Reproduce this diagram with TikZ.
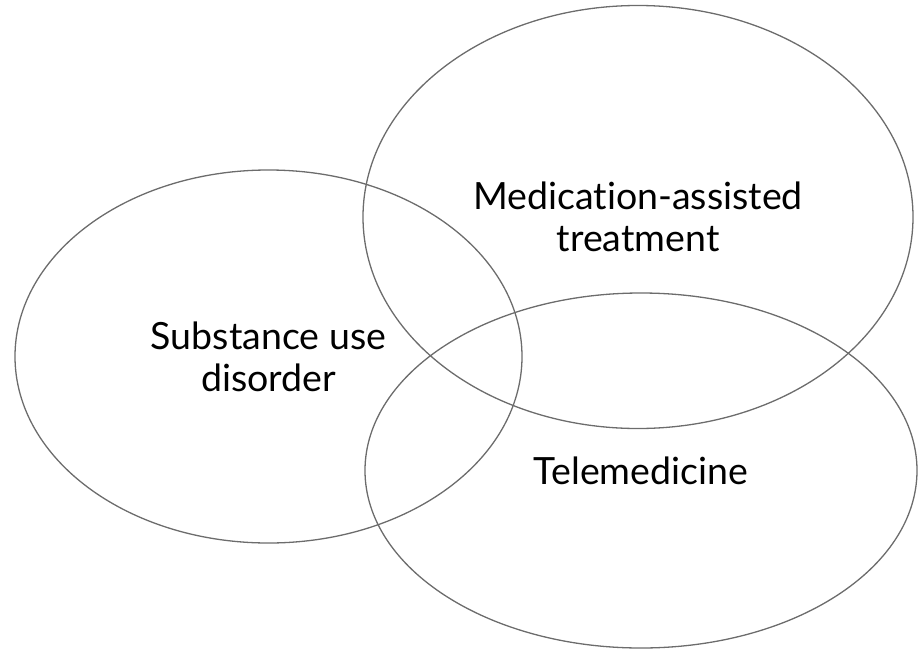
\documentclass[tikz,border=0pt]{standalone}
\usepackage{fontspec}
\setmainfont{Lato}[Ligatures=NoCommon]
\usepackage{tikz}
\usetikzlibrary{shapes.geometric}
\definecolor{ringgray}{RGB}{108,108,108}
\tikzstyle{setring}=[ellipse,draw=ringgray,line width=1.3pt,inner sep=0pt,align=center,font=\fontsize{37.5}{42}\selectfont]

\begin{document}
\begin{tikzpicture}[x=1pt,y=-1pt]
    \useasboundingbox (0,0) rectangle (921,651);
    % the three sets of the diagram
    \foreach \pos/\w/\h/\name/\txt in {{(268.5,356.5)/507/373/SUD/{Substance use\\disorder}},
                                      {(638,217)/550/423/MAT/{Medication-assisted\\treatment}},
                                      {(641,470.5)/552/355/TM/{Telemedicine}}}
            \node[setring, minimum width=\w pt, minimum height=\h pt] (\name) at \pos {\txt};
\end{tikzpicture}
\end{document}
